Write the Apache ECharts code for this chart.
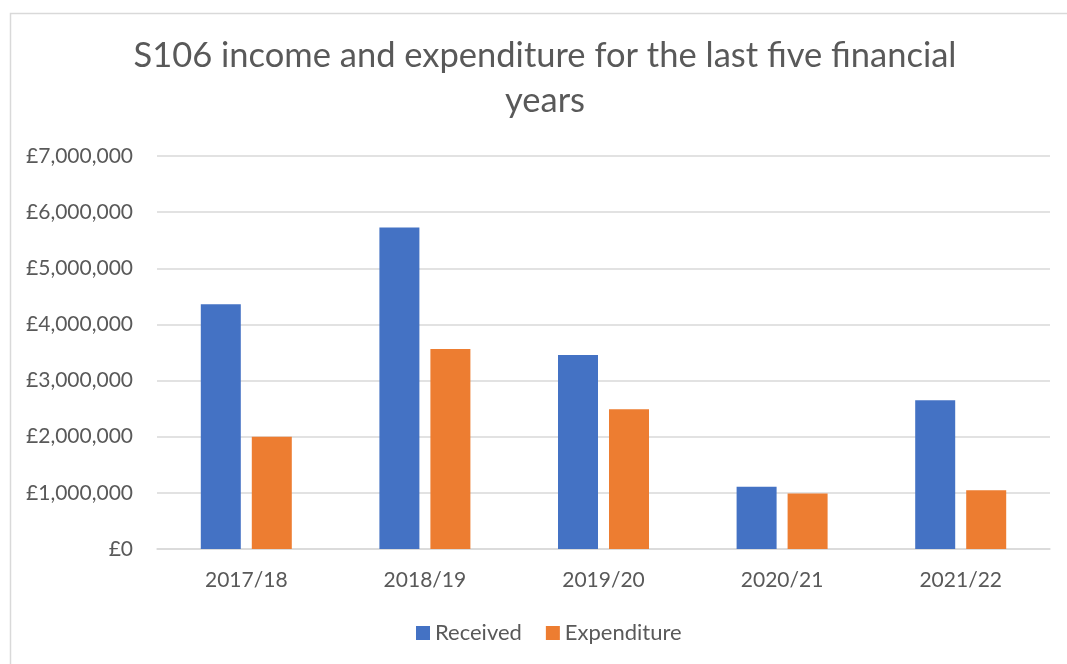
<!DOCTYPE html>
<html>
<head>
<meta charset="utf-8">
<script src="https://cdn.jsdelivr.net/npm/echarts@6/dist/echarts.min.js"></script>
<style>
html,body{margin:0;padding:0;background:#fff;}
#c{width:1067px;height:664px;}
</style>
</head>
<body>
<div id="c"></div>
<script>
const categories = ['2017/18', '2018/19', '2019/20', '2020/21', '2021/22'];
const received = [4360000, 5725000, 3456000, 1110000, 2650000];
const expenditure = [2000000, 3563000, 2488000, 988000, 1045000];
const seriesNames = ['Received', 'Expenditure'];
const titleText = 'S106 income and expenditure for the last five financial\nyears';

const FONT = "Lato, 'Noto Sans', sans-serif";
const chart = echarts.init(document.getElementById('c'));
chart.setOption({
  animation: false,
  backgroundColor: '#fff',
  graphic: [{
    type: 'rect', left: 8, top: 11,
    shape: { width: 1075, height: 670 },
    style: { fill: 'none', stroke: '#d9d9d9', lineWidth: 1.5 }
  }],
  title: {
    text: titleText,
    left: 540, top: 28, textAlign: 'center',
    textStyle: { fontFamily: FONT, fontSize: 34.5, fontWeight: 'normal', color: '#595959', lineHeight: 45 }
  },
  legend: {
    data: seriesNames,
    left: 411, top: 617,
    itemWidth: 14, itemHeight: 14, itemGap: 24,
    icon: 'rect',
    textStyle: { fontFamily: FONT, fontSize: 22, color: '#595959' }
  },
  grid: { left: 157, right: 17, top: 156, bottom: 115 },
  xAxis: {
    type: 'category', data: categories,
    axisLine: { lineStyle: { color: '#d9d9d9', width: 1.5 } },
    axisTick: { show: false },
    axisLabel: { fontFamily: FONT, fontSize: 21, color: '#595959', margin: 21 }
  },
  yAxis: {
    type: 'value', min: 0, max: 7000000, interval: 1000000,
    axisLine: { show: false }, axisTick: { show: false },
    splitLine: { lineStyle: { color: '#d9d9d9', width: 1.5 } },
    axisLabel: {
      fontFamily: FONT, fontSize: 21, color: '#595959', margin: 24,
      formatter: v => '£' + v.toLocaleString('en-GB')
    }
  },
  series: [
    { name: seriesNames[0], type: 'bar', data: received, barWidth: 40, barGap: '27.5%',
      itemStyle: { color: '#4472C4' } },
    { name: seriesNames[1], type: 'bar', data: expenditure, barWidth: 40,
      itemStyle: { color: '#ED7D31' } }
  ]
});
</script>
</body>
</html>
